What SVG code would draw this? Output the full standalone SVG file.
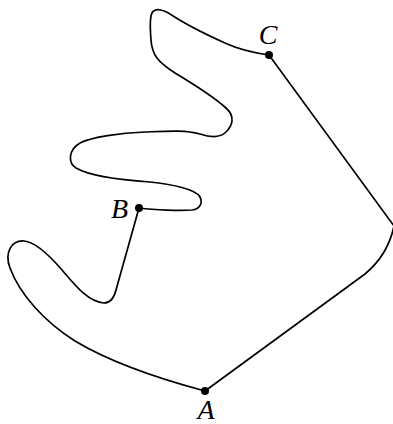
<svg xmlns="http://www.w3.org/2000/svg" width="393" height="424" viewBox="0 0 393 424">
<style>
.ln{fill:none;stroke:#000;stroke-width:1.7;stroke-linejoin:round;stroke-linecap:round}
.lbl{font-family:"Liberation Serif","DejaVu Serif",serif;font-style:italic;font-size:28px;fill:#000}
</style>
<rect width="393" height="424" fill="#fff"/>
<g id="connectors">
<path class="ln" d="M269,55 L394,226 Q388,255 365,274 L205,391"/>
<path class="ln" d="M205,391 C160,379 110,362 75,341 C45,322 20,295 10,268 C4,252 12,240 24,241 C36,242 50,256 62,270 C75,285 88,302 104,303 C111,303 114,298 116,290 L139,208"/>
<path class="ln" d="M139,208 C155,210 180,211 192,210 C200,209 203,203 200,197 C196,189 170,184 150,182 C120,180 90,176 76,168 C68,163 68,150 80,143 C92,137 120,133 145,132 C170,131 185,130 200,134 C212,138 220,138 226,132 C232,126 236,117 226,108 C215,98 195,85 175,73 C158,62 152,55 151,40 C150,28 150,17 152,13 C155,8 162,9 170,14 C185,24 205,34 225,43 C240,50 255,53 269,55"/>
</g>
<g id="A"><circle cx="205" cy="391" r="4"/><text class="lbl" x="206" y="419" text-anchor="middle">A</text></g>
<g id="B"><circle cx="139" cy="208" r="4"/><text class="lbl" x="128" y="218" text-anchor="end">B</text></g>
<g id="C"><circle cx="269" cy="55" r="4"/><text class="lbl" x="268" y="44" text-anchor="middle">C</text></g>
</svg>
